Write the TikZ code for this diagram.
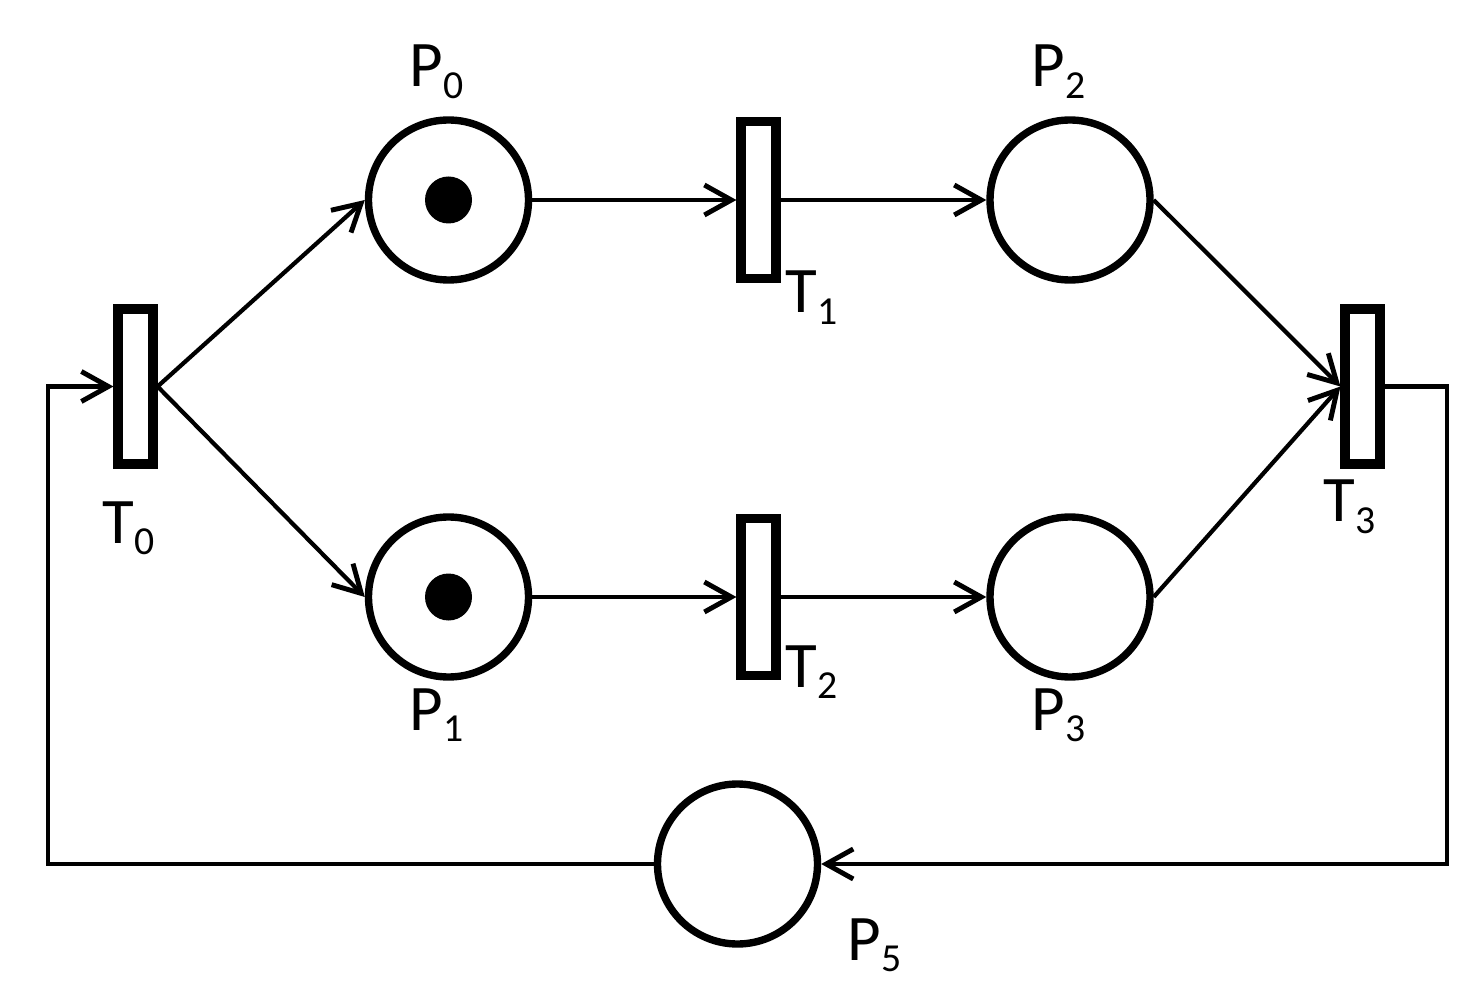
\documentclass[tikz,border=0pt]{standalone}
\usepackage{fontspec}
\setmainfont{Carlito}
\usetikzlibrary{arrows.meta}
\newcommand{\sublbl}[2]{#1\raisebox{-3.4pt}{\fontsize{11.3}{12}\selectfont #2}}

\begin{document}
\begin{tikzpicture}[
  place/.style={circle,draw,line width=2.1pt,minimum size=1.60cm,inner sep=0pt},
  trans/.style={rectangle,draw,line width=2.6pt,minimum width=0.35cm,minimum height=1.57cm,inner sep=0pt},
  token/.style={circle,fill,minimum size=0.47cm,inner sep=0pt},
  arc/.style={line width=1.2pt,-{Straight Barb[length=2.7mm,width=3mm,line width=1.4pt]}},
  lbl/.style={anchor=base west,inner sep=0pt,font=\fontsize{18.5}{20}\selectfont}]
\useasboundingbox (0,0) rectangle (14.84,10.04);

\node[place] (P0) at (4.485,8.04) {};
\node[place] (P1) at (4.485,4.07) {};
\node[place] (P2) at (10.70,8.04) {};
\node[place] (P3) at (10.70,4.07) {};
\node[place] (P5) at (7.375,1.40) {};
\node[token] (k0) at (P0) {};
\node[token] (k1) at (P1) {};

\node[trans,minimum height=1.55cm] (T0) at (1.355,6.175) {};
\node[trans] (T1) at (7.585,8.04) {};
\node[trans] (T2) at (7.585,4.07) {};
\node[trans,minimum height=1.55cm] (T3) at (13.625,6.175) {};

\coordinate (br) at (14.47,1.40);
\coordinate (bl) at (0.48,1.40);

\draw[arc] (T0.east) -- (P0.west);
\draw[arc] (T0.east) -- (P1.west);
\draw[arc] (P0.east) -- (T1.west);
\draw[arc] (P1.east) -- (T2.west);
\draw[arc] (T1.east) -- (P2.west);
\draw[arc] (T2.east) -- (P3.west);
\draw[arc] (P2.east) -- (T3.west);
\draw[arc] (P3.east) -- (T3.west);
\draw[arc] (T3.east) -| (br) -- (P5.east);
\draw[arc] (P5.west) -- (bl) |- (T0.west);

\node[lbl] (lP0) at (4.09,9.17) {\sublbl{P}{0}};
\node[lbl] (lP2) at (10.31,9.17) {\sublbl{P}{2}};
\node[lbl] (lT1) at (7.85,6.91) {\sublbl{T}{1}};
\node[lbl] (lT0) at (1.02,4.61) {\sublbl{T}{0}};
\node[lbl] (lP1) at (4.09,2.74) {\sublbl{P}{1}};
\node[lbl] (lT2) at (7.85,3.17) {\sublbl{T}{2}};
\node[lbl] (lP3) at (10.31,2.74) {\sublbl{P}{3}};
\node[lbl] (lT3) at (13.23,4.82) {\sublbl{T}{3}};
\node[lbl] (lP5) at (8.47,0.44) {\sublbl{P}{5}};
\end{tikzpicture}
\end{document}
